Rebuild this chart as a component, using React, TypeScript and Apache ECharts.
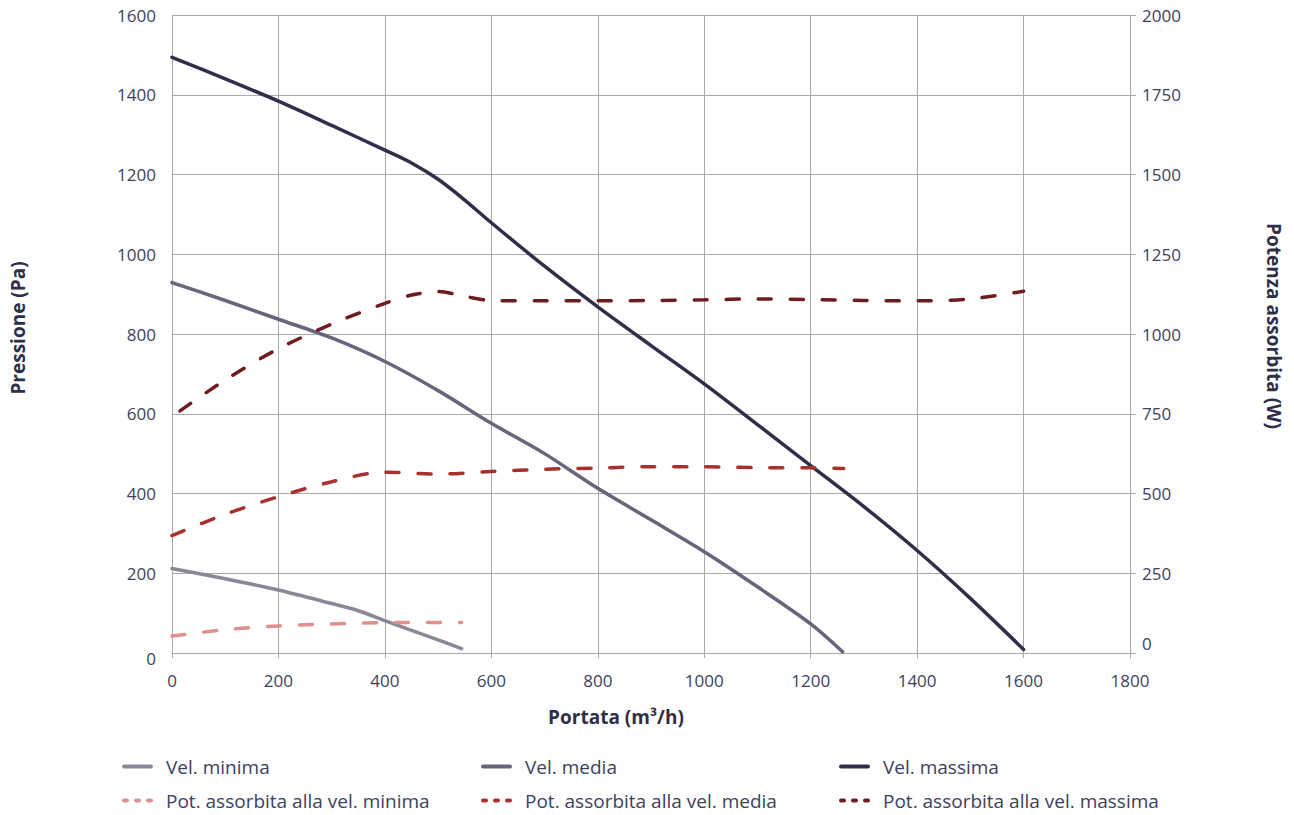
import React, { useEffect, useRef } from "react";
import * as echarts from "echarts";

// Portata (m³/h) vs Pressione (Pa)
const velMinima: number[][] = [
  [0, 212], [100, 186], [200, 158], [300, 124], [350, 106], [400, 81], [500, 33], [544, 11],
];
const velMedia: number[][] = [
  [0, 929], [100, 884], [200, 837], [300, 790], [400, 731], [500, 658], [600, 576],
  [700, 500], [800, 413], [900, 334], [1000, 254], [1100, 166], [1200, 73], [1260, 3],
];
const velMassima: number[][] = [
  [0, 1494], [100, 1440], [200, 1384], [300, 1323], [400, 1261], [450, 1229], [500, 1188],
  [550, 1136], [600, 1079], [700, 970], [800, 868], [900, 771], [1000, 675], [1100, 573],
  [1200, 470], [1300, 367], [1400, 257], [1500, 137], [1600, 9],
];
// Portata (m³/h) vs Potenza assorbita (W)
const potMinima: number[][] = [
  [0, 53], [100, 73], [200, 85], [300, 91], [400, 95], [544, 96],
];
const potMedia: number[][] = [
  [0, 368], [100, 435], [200, 490], [300, 537], [400, 567], [500, 561], [600, 569],
  [700, 576], [800, 580], [900, 584], [1000, 584], [1100, 581], [1200, 581], [1262, 578],
];
const potMassima: number[][] = [
  [15, 759], [100, 856], [200, 954], [300, 1031], [400, 1096], [450, 1122], [500, 1133],
  [550, 1118], [600, 1105], [700, 1104], [800, 1104], [900, 1105], [1000, 1107],
  [1100, 1110], [1200, 1108], [1300, 1105], [1400, 1104], [1500, 1110], [1600, 1134],
];

const seriesNames = [
  "Vel. minima",
  "Vel. media",
  "Vel. massima",
  "Pot. assorbita alla vel. minima",
  "Pot. assorbita alla vel. media",
  "Pot. assorbita alla vel. massima",
];
const seriesColors = ["#8a8898", "#67657b", "#302e48", "#e0908c", "#a8302e", "#6e1c1e"];

const FONT = "'Open Sans', 'Noto Sans', sans-serif";
const LABEL_COLOR = "#3d3f5e";
const NAME_COLOR = "#2e2e48";
const GRID_COLOR = "#a9a9a9";

const SOLID_ICON = "path://M2,0 H29 A2,2 0 0 1 29,4 H2 A2,2 0 0 1 2,0 Z";
const DASH_ICON =
  "path://M2,0 H5 A2,2 0 0 1 5,4 H2 A2,2 0 0 1 2,0 Z M14,0 H17 A2,2 0 0 1 17,4 H14 A2,2 0 0 1 14,0 Z M26,0 H29 A2,2 0 0 1 29,4 H26 A2,2 0 0 1 26,0 Z";

export default function App() {
  const ref = useRef<HTMLDivElement>(null);
  useEffect(() => {
    document.body.style.margin = "0";
    if (!ref.current) return;
    const chart = echarts.init(ref.current, undefined, { renderer: "svg" });

    const solid = (i: number, data: number[][]) => ({
      name: seriesNames[i],
      type: "line",
      yAxisIndex: 0,
      data,
      showSymbol: false,
      symbol: "none",
      smooth: 0.3,
      lineStyle: { color: seriesColors[i], width: 3.5, cap: "round" },
      itemStyle: { color: seriesColors[i] },
    });
    const dashed = (i: number, data: number[][]) => ({
      name: seriesNames[i],
      type: "line",
      yAxisIndex: 1,
      data,
      showSymbol: false,
      symbol: "none",
      smooth: 0.3,
      lineStyle: { color: seriesColors[i], width: 3.5, type: [13, 19], cap: "round" },
      itemStyle: { color: seriesColors[i] },
    });

    const legendLefts = [117, 476, 834];
    const legendTops = [752, 786];
    const legends = seriesNames.map((name, i) => ({
      left: legendLefts[i % 3],
      top: legendTops[Math.floor(i / 3)],
      orient: "horizontal",
      itemWidth: 31,
      itemHeight: 4,
      selectedMode: false,
      icon: i < 3 ? SOLID_ICON : DASH_ICON,
      data: [name],
      textStyle: { fontFamily: FONT, fontSize: 19, color: LABEL_COLOR, padding: [0, 0, 0, 8] },
    }));

    const option: any = {
      animation: false,
      textStyle: { fontFamily: FONT },
      grid: { left: 169, right: 164, top: 15, bottom: 162, containLabel: false },
      legend: legends,
      xAxis: {
        type: "value",
        min: 0,
        max: 1800,
        interval: 200,
        name: "Portata (m³/h)",
        nameLocation: "middle",
        nameGap: 54,
        nameTextStyle: {
          fontFamily: FONT, fontSize: 19, fontWeight: "bold", color: NAME_COLOR,
          padding: [0, 70, 0, 0],
        },
        axisLine: { show: true, lineStyle: { color: GRID_COLOR, width: 1 } },
        axisTick: { show: true, length: 5, lineStyle: { color: GRID_COLOR } },
        axisLabel: {
          margin: 19, fontFamily: FONT, fontSize: 17, color: LABEL_COLOR,
          formatter: (v: number) => String(v),
        },
        splitLine: { show: true, lineStyle: { color: GRID_COLOR, width: 1 } },
      },
      yAxis: [
        {
          type: "value",
          min: 0,
          max: 1600,
          interval: 200,
          position: "left",
          name: "Pressione (Pa)",
          nameLocation: "middle",
          nameGap: 145,
          nameTextStyle: {
            fontFamily: FONT, fontSize: 19, fontWeight: "bold", color: NAME_COLOR,
            padding: [0, 0, 0, 12],
          },
          axisLine: { show: true, lineStyle: { color: GRID_COLOR, width: 1 } },
          axisTick: { show: false },
          axisLabel: {
            margin: 16,
            fontFamily: FONT,
            fontSize: 17,
            color: LABEL_COLOR,
            formatter: (v: number) => (v === 0 ? "{z|0}" : String(v)),
            rich: { z: { fontFamily: FONT, fontSize: 17, color: LABEL_COLOR, padding: [10, 0, 0, 0] } },
          },
          splitLine: { show: true, lineStyle: { color: GRID_COLOR, width: 1 } },
        },
        {
          type: "value",
          min: 0,
          max: 2000,
          interval: 250,
          position: "right",
          name: "Potenza assorbita (W)",
          nameLocation: "middle",
          nameRotate: -90,
          nameGap: 134,
          nameTextStyle: {
            fontFamily: FONT, fontSize: 19, fontWeight: "bold", color: NAME_COLOR,
            padding: [0, 16, 0, 0],
          },
          axisLine: { show: true, lineStyle: { color: GRID_COLOR, width: 1 } },
          axisTick: { show: true, length: 6, lineStyle: { color: GRID_COLOR } },
          axisLabel: {
            margin: 12,
            fontFamily: FONT,
            fontSize: 17,
            color: LABEL_COLOR,
            formatter: (v: number) => (v === 0 ? "{z|0}" : String(v)),
            rich: { z: { fontFamily: FONT, fontSize: 17, color: LABEL_COLOR, padding: [0, 0, 20, 0] } },
          },
          splitLine: { show: false },
        },
      ],
      series: [
        solid(0, velMinima),
        solid(1, velMedia),
        solid(2, velMassima),
        dashed(3, potMinima),
        dashed(4, potMedia),
        dashed(5, potMassima),
      ],
    };
    chart.setOption(option);
    return () => chart.dispose();
  }, []);
  return <div ref={ref} style={{ width: 1294, height: 815 }} />;
}
